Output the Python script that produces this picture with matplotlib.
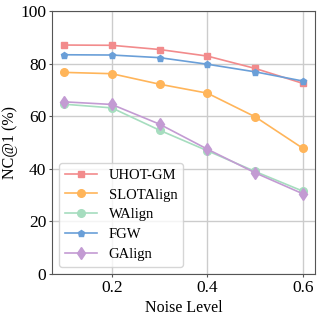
import matplotlib
matplotlib.use("Agg")
import matplotlib.pyplot as plt

plt.rcParams["font.family"] = ["Liberation Serif", "DejaVu Serif"]
plt.rcParams["mathtext.fontset"] = "stix"

noise = [0.1, 0.2, 0.3, 0.4, 0.5, 0.6]

uhot_gm = [87.1, 87.0, 85.4, 82.9, 78.2, 72.5]
slotalign = [76.7, 76.2, 72.2, 68.8, 59.8, 47.8]
walign = [64.6, 63.2, 54.7, 46.9, 39.0, 31.5]
fgw = [83.4, 83.3, 82.3, 79.8, 76.9, 73.4]
galign = [65.5, 64.5, 57.0, 47.5, 38.5, 30.5]

series = [
    ("UHOT-GM", uhot_gm, "#F28B8C", "s", 5),
    ("SLOTAlign", slotalign, "#FFB55A", "o", 5.5),
    ("WAlign", walign, "#A6DDBF", "o", 5.5),
    ("FGW", fgw, "#6A9FD8", "p", 5),
    ("GAlign", galign, "#C39BD3", "d", 6.5),
]

fig = plt.figure(figsize=(3.27, 3.27), dpi=100)
ax = fig.add_axes([0.159, 0.162, 0.804, 0.804])

for name, vals, color, marker, ms in series:
    ax.plot(noise, vals, color=color, marker=marker, markersize=ms,
            linewidth=1.2, label=name)

ax.set_ylim(0, 100)
ax.set_xticks([0.2, 0.4, 0.6])
ax.set_yticks([0, 20, 40, 60, 80, 100])
ax.tick_params(labelsize=12.5, length=2, pad=2, color="#555555")
ax.set_xlabel("Noise Level", fontsize=11.5)
ax.set_ylabel("NC@1 (%)", fontsize=11.5)
ax.yaxis.set_label_coords(-0.128, 0.5)
ax.xaxis.set_label_coords(0.5, -0.097)
ax.grid(True, color="#cccccc", linewidth=1)
ax.set_axisbelow(True)
for s in ax.spines.values():
    s.set_color("#555555")

ax.legend(loc="lower left", fontsize=10.5, handlelength=2.2,
          labelspacing=0.45, borderpad=0.4)

fig.savefig("out.png", dpi=100)
